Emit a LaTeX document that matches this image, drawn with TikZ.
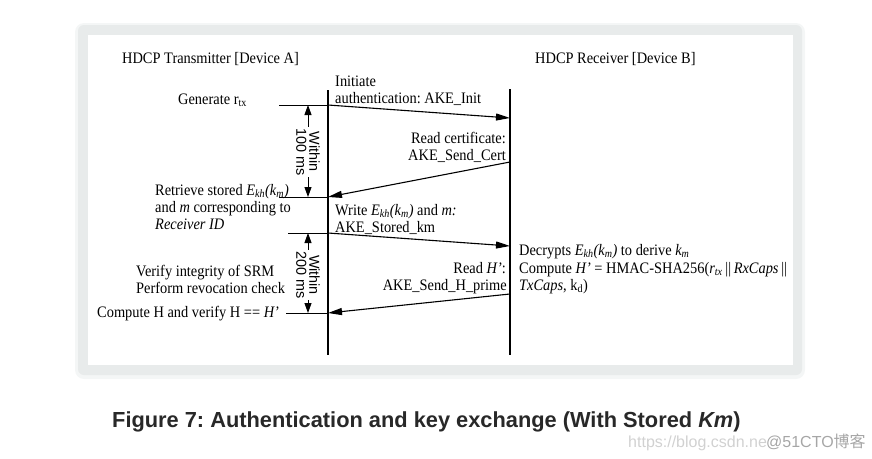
\documentclass[tikz,border=0pt]{standalone}
\usepackage{fontspec}
\setmainfont{Liberation Serif}[FakeStretch=0.9]
\setsansfont{Liberation Sans}
\newfontfamily\cjk{Noto Sans CJK SC}
\usetikzlibrary{arrows.meta}
\frenchspacing

\definecolor{cardgray}{RGB}{232,235,235}
\definecolor{cardshade}{RGB}{244,246,246}
\definecolor{capgray}{RGB}{40,40,40}

\newcommand\ekm{\textit{E\textsubscript{kh}(k\textsubscript{m})}}
\newcommand\hpr{\textit{H’}}

\begin{document}
\begin{tikzpicture}[x=1pt,y=-1pt,
    txt/.style={font=\fontsize{16}{18}\selectfont,inner sep=0pt},
    lifeline/.style={line width=2.6pt},
    msg/.style={line width=1.1pt,-{Triangle[length=14pt,width=7pt]}},
    tick/.style={line width=0.9pt},
    dim/.style={line width=0.9pt,{Triangle[length=10pt,width=7pt]}-{Triangle[length=10pt,width=7pt]}},
    dimlabel/.style={font=\sffamily\fontsize{14.4}{13}\selectfont,rotate=-90,align=center,fill=white,inner sep=1pt}]
  \useasboundingbox (0,0) rectangle (872,458);

  % card
  \fill[cardshade,rounded corners=9pt] (75,23) rectangle (805,379);
  \fill[cardgray,rounded corners=6pt] (78,25) rectangle (802,375);
  \fill[white] (88,35) rectangle (793,365);

  % lifelines
  \coordinate (a top) at (328,90);
  \coordinate (a bot) at (328,355);
  \coordinate (b top) at (510,89);
  \coordinate (b bot) at (510,355);
  \draw[lifeline] (a top) -- (a bot);
  \draw[lifeline] (b top) -- (b bot);

  \node[txt,anchor=base west] (devA) at (122,63) {HDCP Transmitter [Device A]};
  \node[txt,anchor=base west] (devB) at (535,63) {HDCP Receiver [Device B]};

  % message points
  \coordinate (a1) at (328,105);
  \coordinate (b1) at (510,118);
  \coordinate (b2) at (510,162);
  \coordinate (a2) at (328,197);
  \coordinate (a3) at (328,233);
  \coordinate (b3) at (510,246);
  \coordinate (b4) at (510,294);
  \coordinate (a4) at (328,313);

  \draw[msg] (a1) -- (b1);
  \draw[msg] (b2) -- (a2);
  \draw[msg] (a3) -- (b3);
  \draw[msg] (b4) -- (a4);

  % ticks
  \coordinate (t1) at (279,105);
  \coordinate (t2) at (279,197);
  \coordinate (t3) at (288,233);
  \coordinate (t4) at (286,313);
  \draw[tick] (t1) -- (a1);
  \draw[tick] (t2) -- (a2);
  \draw[tick] (t3) -- (a3);
  \draw[tick] (t4) -- (a4);

  % timing
  \coordinate (d1) at (308,105);
  \coordinate (d2) at (308,197);
  \coordinate (d3) at (308,233);
  \coordinate (d4) at (308,313);
  \draw[dim] (d1) -- (d2);
  \draw[dim] (d3) -- (d4);
  \node[dimlabel] (within1) at (308,152) {Within\\100 ms};
  \node[dimlabel] (within2) at (308,275) {Within\\200 ms};

  % transmitter side
  \node[txt,anchor=base west] (gen) at (178,104) {Generate r\textsubscript{tx}};
  \node[txt,anchor=base west] (ret1) at (155,195) {Retrieve stored \ekm};
  \node[txt,anchor=base west] (ret2) at (155,212) {and \textit{m} corresponding to};
  \node[txt,anchor=base west] (ret3) at (155,229) {\textit{Receiver ID}};
  \node[txt,anchor=base west] (ver1) at (136,276) {Verify integrity of SRM};
  \node[txt,anchor=base west] (ver2) at (136,293) {Perform revocation check};
  \node[txt,anchor=base west] (cmp) at (97,317) {Compute H and verify H == \hpr};

  % messages
  \node[txt,anchor=base west] (ini1) at (335,86) {Initiate};
  \node[txt,anchor=base west] (ini2) at (335,103) {authentication: AKE\_Init};
  \node[txt,anchor=base east] (cert1) at (506,143) {Read certificate:};
  \node[txt,anchor=base east] (cert2) at (506,160) {AKE\_Send\_Cert};
  \node[txt,anchor=base west] (wr1) at (335,215) {Write \ekm{} and \textit{m:}};
  \node[txt,anchor=base west] (wr2) at (335,232) {AKE\_Stored\_km};
  \node[txt,anchor=base east] (rd1) at (506,273) {Read \hpr:};
  \node[txt,anchor=base east] (rd2) at (507,290) {AKE\_Send\_H\_prime};

  % receiver side
  \node[txt,anchor=base west] (dec1) at (519,255) {Decrypts \ekm{} to derive \textit{k\textsubscript{m}}};
  \node[txt,anchor=base west] (dec2) at (519,273) {Compute \hpr{} = HMAC-SHA256(\textit{r\textsubscript{tx}}\,||\,\textit{RxCaps}\,||};
  \node[txt,anchor=base west] (dec3) at (519,290) {\textit{TxCaps}, k\textsubscript{d})};

  % caption
  \node[anchor=base west,inner sep=0pt,text=capgray,font=\sffamily\bfseries\fontsize{21.8}{24}\selectfont] (cap) at (112,427)
    {Figure 7: Authentication and key exchange (With Stored \textit{Km})};
  \node[anchor=base west,inner sep=0pt,text=black!18,font=\sffamily\fontsize{16}{18}\selectfont] (wm1) at (628,447) {https://blog.csdn.ne};
  \node[anchor=base west,inner sep=0pt,text=black!35,font=\sffamily\fontsize{16}{18}\selectfont] (wm2) at (766,447) {@51CTO{\cjk 博客}};
\end{tikzpicture}
\end{document}
